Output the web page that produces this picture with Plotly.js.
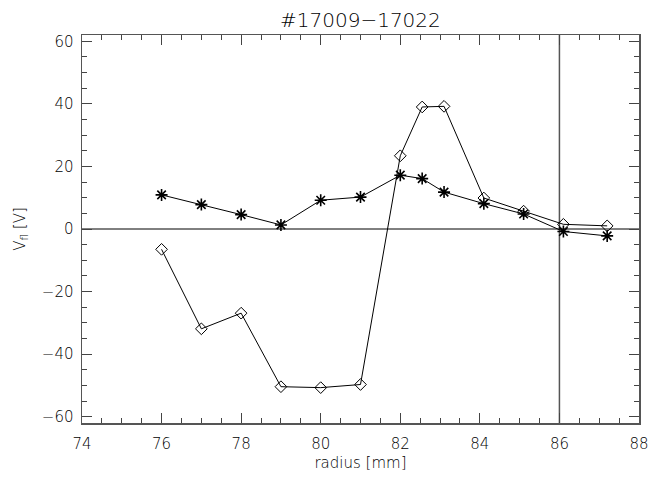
<!DOCTYPE html>
<html>
<head>
<meta charset="utf-8">
<script src="https://cdn.plot.ly/plotly-3.0.1.min.js"></script>
<style>html,body{margin:0;padding:0;background:#fff;}#chart{width:650px;height:477px;}</style>
</head>
<body>
<div id="chart"></div>
<script>
// Data
const radius = [76, 77, 78, 79, 80, 81, 82, 82.55, 83.1, 84.1, 85.1, 86.1, 87.2];
const vflDiamond = [-6.5, -31.9, -26.9, -50.4, -50.7, -49.7, 23.4, 39.0, 39.2, 9.9, 5.7, 1.5, 1.0];
const vflStar = [10.9, 7.8, 4.6, 1.3, 9.2, 10.2, 17.2, 16.1, 11.8, 8.1, 4.8, -0.8, -2.2];
const verticalLineX = [86];
const horizontalLineY = [0];
const xRange = [74, 88];
const yRange = [-62, 62];
const xTicks = [74, 76, 78, 80, 82, 84, 86, 88];
const yTicks = [-60, -40, -20, 0, 20, 40, 60];
const titleText = '#17009\u221217022';
const xTitle = 'radius [mm]';
const yTitle = 'V<sub>fl</sub> [V]';

const font = {family: 'DejaVu Sans, Liberation Sans, sans-serif', color: '#000', size: 15, weight: 200};

const traces = [
  {x: radius, y: vflDiamond, mode: 'lines+markers', type: 'scatter',
   line: {color: '#000', width: 1},
   marker: {symbol: 'diamond-open', size: 9, color: '#000', line: {width: 1, color: '#000'}},
   showlegend: false, cliponaxis: false},
  {x: radius, y: vflStar, mode: 'lines+markers', type: 'scatter',
   line: {color: '#000', width: 1},
   marker: {symbol: 'asterisk-open', size: 10, color: '#000', line: {width: 1.6, color: '#000'}},
   showlegend: false, cliponaxis: false}
];

const shapes = [];
verticalLineX.forEach(v => shapes.push({type: 'line', xref: 'x', yref: 'paper', x0: v, x1: v, y0: 0, y1: 1, line: {color: '#555', width: 1.5}, layer: 'below'}));
horizontalLineY.forEach(v => shapes.push({type: 'line', xref: 'paper', yref: 'y', x0: 0, x1: 1, y0: v, y1: v, line: {color: '#000', width: 1}, layer: 'below'}));

const axisCommon = {
  showgrid: false, zeroline: false, showline: true, linecolor: '#555', linewidth: 1.5,
  mirror: 'ticks', ticks: 'inside', ticklen: 10, tickwidth: 1, tickcolor: '#444',
  tickfont: font
};

const layout = {
  width: 650, height: 477,
  margin: {l: 81.5, r: 10.5, t: 34.5, b: 53.5},
  paper_bgcolor: '#fff', plot_bgcolor: '#fff',
  font: font,
  title: {text: titleText, x: 0.5545, xanchor: 'center', y: 0.958, yanchor: 'middle', font: {family: font.family, size: 20, color: '#000', weight: 200}},
  xaxis: Object.assign({}, axisCommon, {
    range: xRange, tickvals: xTicks, ticktext: xTicks.map(String),
    ticklabelstandoff: 6,
    minor: {dtick: 0.5, ticklen: 5, tickwidth: 1, tickcolor: '#444', ticks: 'inside'},
    title: {text: xTitle, font: font, standoff: 6}
  }),
  yaxis: Object.assign({}, axisCommon, {
    range: yRange, tickvals: yTicks, ticktext: yTicks.map(v => v < 0 ? '\u2212' + Math.abs(v) : String(v)),
    ticklabelstandoff: 4,
    minor: {dtick: 5, ticklen: 5, tickwidth: 1, tickcolor: '#444', ticks: 'inside'},
    title: {text: yTitle, font: font, standoff: 12}
  }),
  shapes: shapes
};

Plotly.newPlot('chart', traces, layout, {displayModeBar: false, staticPlot: true});
</script>
</body>
</html>
